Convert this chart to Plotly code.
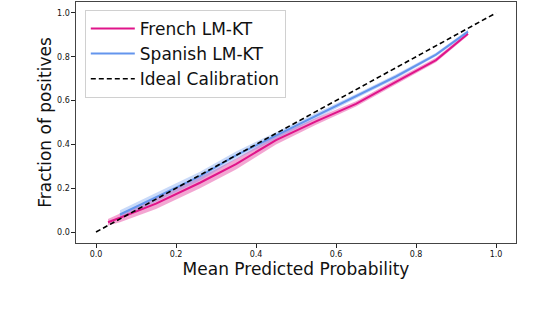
import plotly.graph_objects as go

# ---- data ----
french_x = [0.03, 0.06, 0.15, 0.26, 0.35, 0.45, 0.55, 0.65, 0.75, 0.85, 0.93]
french_y = [0.045, 0.065, 0.13, 0.225, 0.31, 0.42, 0.505, 0.585, 0.685, 0.785, 0.905]
french_err = [0.015, 0.02, 0.025, 0.025, 0.025, 0.02, 0.015, 0.012, 0.012, 0.01, 0.008]

spanish_x = [0.06, 0.15, 0.26, 0.35, 0.45, 0.55, 0.65, 0.75, 0.85, 0.93]
spanish_y = [0.08, 0.16, 0.255, 0.35, 0.44, 0.53, 0.62, 0.71, 0.81, 0.915]
spanish_err = [0.02, 0.02, 0.02, 0.018, 0.015, 0.012, 0.01, 0.01, 0.008, 0.008]

ideal_x = [0.0, 1.0]
ideal_y = [0.0, 1.0]

tick_vals = [0.0, 0.2, 0.4, 0.6, 0.8, 1.0]

FR = "#E0148A"
ES = "#6495ED"
FONT = "DejaVu Sans"

fig = go.Figure()


def band(x, y, err, fill):
    upper = [a + e for a, e in zip(y, err)]
    lower = [a - e for a, e in zip(y, err)]
    return go.Scatter(x=x + x[::-1], y=upper + lower[::-1], fill="toself",
                      fillcolor=fill, line=dict(width=0), mode="lines",
                      showlegend=False, hoverinfo="skip")


fig.add_trace(band(french_x, french_y, french_err, "rgba(224,20,138,0.38)"))
fig.add_trace(band(spanish_x, spanish_y, spanish_err, "rgba(100,149,237,0.35)"))

fig.add_trace(go.Scatter(x=french_x, y=french_y, mode="lines", name="French LM-KT",
                         line=dict(color=FR, width=2), legendgroup="a"))
fig.add_trace(go.Scatter(x=spanish_x, y=spanish_y, mode="lines", name="Spanish LM-KT",
                         line=dict(color=ES, width=2), legendgroup="b"))
fig.add_trace(go.Scatter(x=ideal_x, y=ideal_y, mode="lines", name="Ideal Calibration",
                         line=dict(color="black", width=1.6, dash="5px,3px"), legendgroup="c"))

axis_common = dict(
    range=[-0.05, 1.05], tickvals=tick_vals, tickformat=".1f",
    ticks="outside", ticklen=3.5, tickwidth=0.8, tickcolor="#222",
    showline=True, linecolor="#444", linewidth=1.2, mirror=True,
    showgrid=False, zeroline=False, automargin=False,
    tickfont=dict(family=FONT, size=8, color="#111"),
)

fig.update_layout(
    width=544, height=312,
    margin=dict(l=76, r=28, t=2, b=69),
    plot_bgcolor="white", paper_bgcolor="white",
    font=dict(family=FONT, color="#111"),
    xaxis=dict(**axis_common, title=dict(text="Mean Predicted Probability",
                                         font=dict(family=FONT, size=17, color="#111"),
                                         standoff=4)),
    yaxis=dict(**axis_common, title=dict(text="Fraction of positives",
                                         font=dict(family=FONT, size=17, color="#111"),
                                         standoff=1)),
    legend=dict(x=0.02, y=0.967, xanchor="left", yanchor="top",
                bgcolor="rgba(255,255,255,0.85)", bordercolor="#d0d0d0", borderwidth=1,
                font=dict(family=FONT, size=17, color="#111"),
                traceorder="grouped", tracegroupgap=0, itemwidth=44),
)

fig.write_html("out.html", config={"displayModeBar": False},
               post_script="document.body.style.margin='0';")
